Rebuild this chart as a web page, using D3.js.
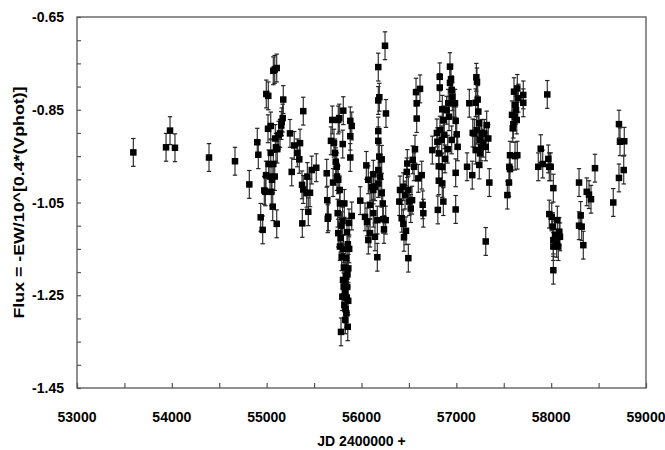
<!DOCTYPE html>
<html><head><meta charset="utf-8">
<script src="https://cdn.jsdelivr.net/npm/d3@7/dist/d3.min.js"></script>
<style>
html,body{margin:0;padding:0;background:#fff;}
text{font-family:"Liberation Sans",Arial,Helvetica,sans-serif;font-weight:bold;fill:#000;}
</style></head>
<body><svg id="c" width="665" height="450"></svg>
<script>
// Julian dates (JD - 2400000) of observations
const jd = [
 53594,53939,53981,54033,54392,54666,
 54817,54901,54912,54937,54958,54975,54986,54996,55017,54993,
 55014,55021,55043,55043,55035,55049,55056,55064,55070,55085,
 55106,55070,55085,55091,55098,55112,55106,55127,55141,55154,
 55169,55175,55159,55246,55264,55291,55323,55352,55344,55373,
 55386,55386,55376,55422,55429,55439,
 55457,55475,55523,55633,55639,55644,55650,55692,55678,55700,
 55710,55721,55728,55739,55755,55766,55742,55755,55770,55773,
 55749,55755,55781,55773,55802,55808,55819,55791,55805,55812,
 55798,55826,55840,55850,55819,55840,55829,55784,55855,55861,
 55847,55868,55897,55882,55897,55882,55882,55987,56051,56037,
 56058,56072,56072,56090,56108,56125,56125,
 55815,55835,55845,55825,55860,55832,55852,55810,55790,55870,55800,55856,
 56248,56177,56177,56188,56258,56177,56177,56188,56213,56125,
 56177,56195,56142,56177,56213,56090,56167,56224,56230,56255,
 56237,56142,56167,56406,56399,56424,56441,56448,56469,56441,
 56459,56477,56483,56494,56504,56519,56533,56540,56554,56564,
 56494,56575,56617,56582,56582,56599,56635,56645,56652,56747,
 56795,56800,56825,56825,56815,56815,56805,
 56852,56863,56828,56846,56873,56817,56852,56881,56909,56852,
 56863,56933,56933,56951,56944,56958,56915,56898,56923,56968,
 56986,56993,57004,57014,56951,56993,56993,57113,57137,57173,
 57168,57211,57218,57204,57225,57232,57190,57215,57239,57250,
 57260,57204,57250,57268,57284,57295,57242,57320,57337,57310,
 57348,57310,
 57538,57555,57559,57566,57566,57619,57643,57595,57601,57587,
 57619,57619,57629,57637,57608,57643,57654,57706,57706,57959,
 57864,57890,57911,57970,57980,57995,58023,57980,58006,58016,
 58041,58023,58065,58086,58093,58058,58023,58075,58023,
 58294,58311,58294,58322,58339,58375,58399,58420,58462,58655,
 58715,58726,58771,58715,58765
];
// Flux = -EW/10^[0.4*(Vphot)]
const flux = [
 -0.942,-0.931,-0.895,-0.932,-0.953,-0.961,
 -1.011,-0.920,-0.947,-1.082,-1.109,-1.024,-1.027,-0.816,-0.820,-0.991,
 -0.891,-0.967,-0.885,-0.943,-0.994,-1.027,-1.001,-1.059,-0.766,-0.763,
 -0.760,-0.967,-0.994,-0.912,-0.931,-0.935,-1.096,-0.905,-0.901,-0.884,
 -0.868,-0.828,-0.876,-0.901,-0.984,-0.927,-0.943,-0.922,-0.957,-1.012,
 -1.022,-0.853,-1.095,-1.030,-0.994,-1.070,
 -1.029,-0.980,-0.975,-0.987,-1.045,-1.085,-1.081,-0.872,-0.917,-1.007,
 -0.922,-0.943,-0.962,-0.973,-0.872,-0.868,-0.994,-1.001,-1.023,-1.052,
 -1.073,-1.116,-1.127,-1.145,-0.924,-0.852,-1.052,-1.167,-1.217,-1.232,
 -1.253,-1.246,-1.210,-1.232,-1.271,-1.289,-1.303,-1.329,-1.318,-1.192,
 -1.114,-1.094,-1.079,-0.874,-0.885,-0.907,-0.953,-1.046,-0.970,-1.081,
 -1.092,-1.001,-1.131,-1.116,-1.016,-1.023,-1.073,
 -1.190,-1.170,-1.255,-1.220,-1.262,-1.280,-1.205,-1.150,-1.100,-1.150,-1.090,-1.140,
 -0.712,-0.758,-0.830,-0.823,-0.858,-0.896,-0.917,-0.951,-0.957,-0.989,
 -0.980,-0.994,-1.016,-1.009,-1.030,-1.055,-1.088,-1.052,-1.086,-1.088,
 -1.108,-1.124,-1.168,-1.023,-1.048,-1.084,-1.096,-1.125,-1.111,-1.016,
 -1.034,-0.984,-0.966,-1.023,-1.048,-1.063,-1.045,-0.958,-0.973,-0.935,
 -1.170,-0.812,-0.805,-0.836,-0.869,-0.998,-0.991,-1.055,-1.073,-0.937,
 -0.900,-0.919,-0.779,-0.802,-0.972,-1.003,-1.066,
 -0.849,-0.872,-0.894,-0.915,-0.904,-0.944,-0.973,-0.956,-0.935,-1.009,
 -1.048,-0.757,-0.792,-0.807,-0.784,-0.822,-0.836,-0.851,-0.865,-0.836,
 -0.836,-0.874,-0.903,-0.930,-0.915,-0.986,-1.065,-0.973,-0.836,-0.900,
 -0.991,-0.780,-0.790,-0.835,-0.828,-0.854,-0.901,-0.894,-0.879,-0.915,
 -0.930,-0.937,-0.944,-0.901,-0.922,-0.901,-0.969,-0.883,-0.912,-0.930,
 -1.007,-1.134,
 -1.034,-1.007,-0.973,-0.978,-0.948,-0.950,-0.948,-0.890,-0.881,-0.861,
 -0.865,-0.840,-0.851,-0.872,-0.811,-0.804,-0.825,-0.818,-0.835,-0.817,
 -0.973,-0.934,-0.967,-0.956,-0.973,-0.973,-1.019,-1.075,-1.081,-1.102,
 -1.120,-1.131,-1.088,-1.113,-1.124,-1.138,-1.145,-1.145,-1.196,
 -1.007,-1.078,-1.100,-1.102,-1.142,-1.027,-1.033,-1.043,-0.976,-1.050,
 -0.881,-0.919,-0.918,-0.997,-0.980
];
const fluxErr = 0.03;
const xTickValues = [53000,54000,55000,56000,57000,58000,59000];
const yTickValues = [-1.45,-1.25,-1.05,-0.85,-0.65];
const xTitle = "JD 2400000 +";
const yTitle = "Flux = -EW/10^[0.4*(Vphot)]";

const svg = d3.select("#c");
const L = 77, R = 646, T = 17, B = 388;
const x = d3.scaleLinear().domain([53000,59000]).range([L,R]);
const y = d3.scaleLinear().domain([-1.45,-0.65]).range([B,T]);
const axisColor = "#555";

// frame
svg.append("rect").attr("x",L).attr("y",T).attr("width",R-L).attr("height",B-T)
  .attr("fill","none").attr("stroke",axisColor).attr("stroke-width",1.3);

// bottom axis: inward ticks every 500
const xAx = svg.append("g").attr("transform",`translate(0,${B})`)
  .call(d3.axisBottom(x).tickValues(d3.range(53000,59001,500)).tickSize(-5).tickFormat(""));
xAx.select(".domain").remove();
xAx.selectAll("line").attr("stroke",axisColor).attr("stroke-width",1.2);
svg.append("g").selectAll("text").data(xTickValues).join("text")
  .attr("x",d=>x(d)).attr("y",422).attr("text-anchor","middle")
  .style("font-size","14px").text(d=>d);

// left axis: inward ticks every 0.05
const yAx = svg.append("g").attr("transform",`translate(${L},0)`)
  .call(d3.axisLeft(y).tickValues(d3.range(0,17).map(i=>-1.45+i*0.05)).tickSize(-4).tickFormat(""));
yAx.select(".domain").remove();
yAx.selectAll("line").attr("stroke",axisColor).attr("stroke-width",1.2);
svg.append("g").selectAll("text").data(yTickValues).join("text")
  .attr("x",64).attr("y",d=>y(d)).attr("dy","0.36em").attr("text-anchor","end")
  .style("font-size","14px").text(d=>d.toFixed(2));

// titles
svg.append("text").attr("x",(L+R)/2).attr("y",446).attr("text-anchor","middle")
  .style("font-size","14px").text(xTitle);
svg.append("text").attr("transform",`translate(24,${(T+B)/2}) rotate(-90)`)
  .attr("text-anchor","middle").style("font-size","14px")
  .attr("textLength",232).attr("lengthAdjust","spacingAndGlyphs").text(yTitle);

const pts = jd.map((d,i)=>({jd:d, f:flux[i]}));
const g = svg.append("g");
// error bars
const eb = g.selectAll("g.eb").data(pts).join("g").attr("class","eb");
eb.append("line").attr("x1",d=>x(d.jd)).attr("x2",d=>x(d.jd))
  .attr("y1",d=>y(d.f-fluxErr)).attr("y2",d=>y(d.f+fluxErr))
  .attr("stroke","#333").attr("stroke-width",1.2);
[-1,1].forEach(s=>{
  eb.append("line").attr("x1",d=>x(d.jd)-2.2).attr("x2",d=>x(d.jd)+2.2)
    .attr("y1",d=>y(d.f+s*fluxErr)).attr("y2",d=>y(d.f+s*fluxErr))
    .attr("stroke","#222").attr("stroke-width",1.2);
});
// markers
const ms = 6.5;
g.selectAll("rect.m").data(pts).join("rect").attr("class","m")
  .attr("x",d=>x(d.jd)-ms/2).attr("y",d=>y(d.f)-ms/2)
  .attr("width",ms).attr("height",ms).attr("fill","#000");
</script></body></html>
